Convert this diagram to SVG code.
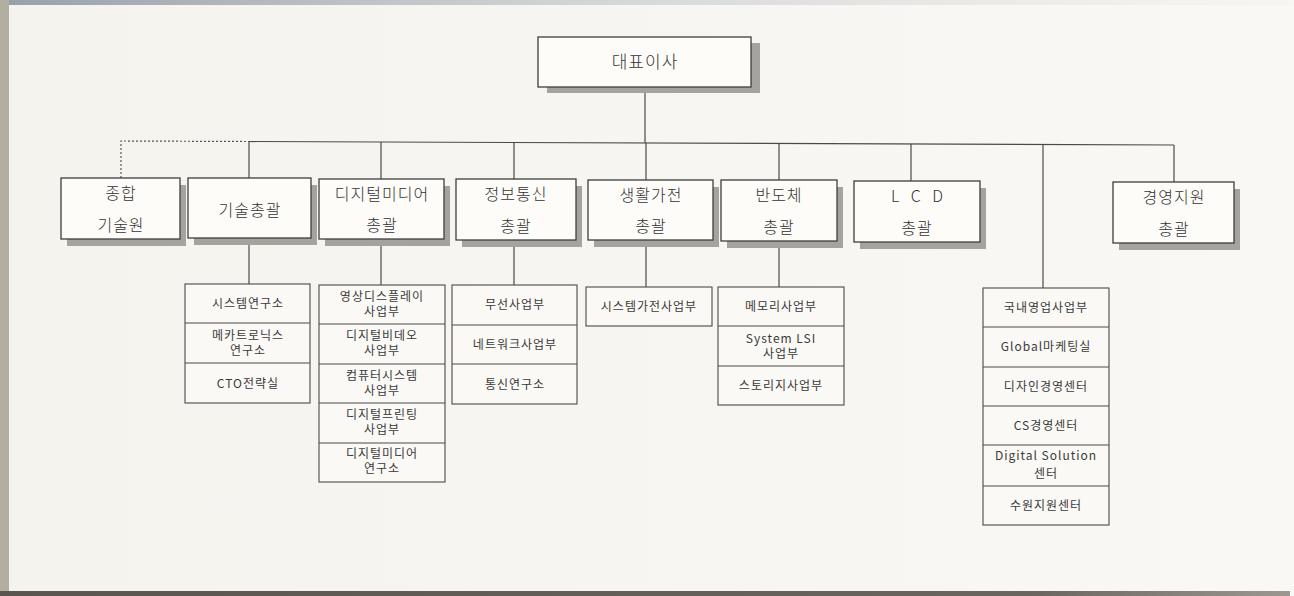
<svg xmlns="http://www.w3.org/2000/svg" width="1294" height="596" viewBox="0 0 1294 596">
<style>
.bx{fill:#fdfcf9;stroke:#3e3e3e;stroke-width:1.3}
.sh{fill:#a5a39e}
.sb{fill:#faf9f5;stroke:#4a4a4a;stroke-width:1.1}
.dv{stroke:#4a4a4a;stroke-width:1.1}
.ln{stroke:#4a4a4a;stroke-width:1.2;fill:none}
.dash{stroke:#555;stroke-width:1.2;stroke-dasharray:2 2;fill:none}
.t{font-family:"Noto Sans CJK KR","Noto Sans",sans-serif;font-size:16px;font-weight:300;fill:#333;text-anchor:middle;letter-spacing:1px}
.ts{font-family:"Noto Sans CJK KR","Noto Sans",sans-serif;font-size:12px;fill:#3a3a3a;text-anchor:middle;letter-spacing:1px}
</style>
<defs>
<linearGradient id="bg" x1="0" y1="0" x2="1" y2="0">
<stop offset="0" stop-color="#f5f3ee"/>
<stop offset="1" stop-color="#f9f8f5"/>
</linearGradient>
<linearGradient id="topg" x1="0" y1="0" x2="1" y2="0">
<stop offset="0" stop-color="#8e96a2" stop-opacity="0.9"/>
<stop offset="0.5" stop-color="#a8adb5" stop-opacity="0.4"/>
<stop offset="1" stop-color="#c8c8c8" stop-opacity="0.05"/>
</linearGradient>
<linearGradient id="botg" x1="0" y1="0" x2="1" y2="0">
<stop offset="0" stop-color="#5a554e"/>
<stop offset="0.8" stop-color="#6a655e"/>
<stop offset="1" stop-color="#9c9890"/>
</linearGradient>
</defs>
<rect x="0" y="0" width="1294" height="596" fill="url(#bg)"/>
<rect x="0" y="0" width="1294" height="5" fill="url(#topg)"/>
<rect x="0" y="0" width="9" height="592" fill="#b2afa1"/>
<rect x="0" y="591" width="1290" height="5" fill="url(#botg)"/>

<g id="connectors">
<line class="ln" x1="645" y1="87" x2="645" y2="143"/>
<line class="ln" x1="249" y1="141.5" x2="1174" y2="145"/>
<polyline class="dash" points="121,178 121,141 249,141.5"/>
<line class="ln" x1="249" y1="141.5" x2="249" y2="178"/>
<line class="ln" x1="381" y1="142" x2="381" y2="179"/>
<line class="ln" x1="514" y1="142.5" x2="514" y2="179"/>
<line class="ln" x1="646" y1="143" x2="646" y2="180"/>
<line class="ln" x1="779" y1="143.5" x2="779" y2="180"/>
<line class="ln" x1="911" y1="144" x2="911" y2="181"/>
<line class="ln" x1="1043" y1="144.5" x2="1043" y2="288"/>
<line class="ln" x1="1174" y1="145" x2="1174" y2="182"/>
<line class="ln" x1="249" y1="238" x2="249" y2="284"/>
<line class="ln" x1="381" y1="239" x2="381" y2="285"/>
<line class="ln" x1="514" y1="240" x2="514" y2="285"/>
<line class="ln" x1="646" y1="240" x2="646" y2="287"/>
<line class="ln" x1="779" y1="241" x2="779" y2="287"/>
</g>

<g id="ceo">
<rect class="sh" x="547" y="43" width="213" height="50"/>
<rect class="bx" x="538" y="37" width="213" height="50"/>
<text class="t" x="645" y="68" style="font-size:17px">대표이사</text>
</g>

<g id="n-jonghap">
<rect class="sh" x="67" y="185" width="119" height="61"/>
<rect class="bx" x="61" y="178" width="119" height="61"/>
<text class="t" x="121" y="199">종합</text>
<text class="t" x="121" y="231">기술원</text>
</g>

<g id="n-gisul">
<rect class="sh" x="194" y="185" width="123" height="60"/>
<rect class="bx" x="188" y="178" width="123" height="60"/>
<text class="t" x="250" y="216">기술총괄</text>
</g>

<g id="n-digital">
<rect class="sh" x="325" y="186" width="125" height="60"/>
<rect class="bx" x="319" y="179" width="125" height="60"/>
<text class="t" x="382" y="200">디지털미디어</text>
<text class="t" x="382" y="231">총괄</text>
</g>

<g id="n-info">
<rect class="sh" x="462" y="186" width="120" height="61"/>
<rect class="bx" x="456" y="179" width="120" height="61"/>
<text class="t" x="516" y="200">정보통신</text>
<text class="t" x="516" y="232">총괄</text>
</g>

<g id="n-life">
<rect class="sh" x="594" y="187" width="125" height="60"/>
<rect class="bx" x="588" y="180" width="125" height="60"/>
<text class="t" x="651" y="201">생활가전</text>
<text class="t" x="651" y="232">총괄</text>
</g>

<g id="n-semi">
<rect class="sh" x="727" y="187" width="116" height="61"/>
<rect class="bx" x="721" y="180" width="116" height="61"/>
<text class="t" x="779" y="201">반도체</text>
<text class="t" x="779" y="233">총괄</text>
</g>

<g id="n-lcd">
<rect class="sh" x="860" y="188" width="126" height="61"/>
<rect class="bx" x="854" y="181" width="126" height="61"/>
<text class="t" x="919" y="202" style="letter-spacing:4px">L C D</text>
<text class="t" x="917" y="234">총괄</text>
</g>

<g id="n-mgmt">
<rect class="sh" x="1119" y="189" width="121" height="61"/>
<rect class="bx" x="1113" y="182" width="121" height="61"/>
<text class="t" x="1174" y="203">경영지원</text>
<text class="t" x="1174" y="235">총괄</text>
</g>

<g id="s-gisul">
<rect class="sb" x="185" y="284" width="125" height="119"/>
<line class="dv" x1="185" y1="323" x2="310" y2="323"/>
<line class="dv" x1="185" y1="363" x2="310" y2="363"/>
<text class="ts" x="248" y="308">시스템연구소</text>
<text class="ts" x="248" y="340">메카트로닉스</text>
<text class="ts" x="248" y="355">연구소</text>
<text class="ts" x="248" y="388">CTO전략실</text>
</g>

<g id="s-digital">
<rect class="sb" x="319" y="285" width="126" height="197"/>
<line class="dv" x1="319" y1="324" x2="445" y2="324"/>
<line class="dv" x1="319" y1="364" x2="445" y2="364"/>
<line class="dv" x1="319" y1="403" x2="445" y2="403"/>
<line class="dv" x1="319" y1="443" x2="445" y2="443"/>
<text class="ts" x="382" y="301">영상디스플레이</text>
<text class="ts" x="382" y="316">사업부</text>
<text class="ts" x="382" y="340">디지털비데오</text>
<text class="ts" x="382" y="355">사업부</text>
<text class="ts" x="382" y="380">컴퓨터시스템</text>
<text class="ts" x="382" y="395">사업부</text>
<text class="ts" x="382" y="419">디지털프린팅</text>
<text class="ts" x="382" y="434">사업부</text>
<text class="ts" x="382" y="458">디지털미디어</text>
<text class="ts" x="382" y="473">연구소</text>
</g>

<g id="s-info">
<rect class="sb" x="452" y="285" width="125" height="119"/>
<line class="dv" x1="452" y1="325" x2="577" y2="325"/>
<line class="dv" x1="452" y1="364" x2="577" y2="364"/>
<text class="ts" x="515" y="309">무선사업부</text>
<text class="ts" x="515" y="349">네트워크사업부</text>
<text class="ts" x="515" y="389">통신연구소</text>
</g>

<g id="s-life">
<rect class="sb" x="586" y="287" width="126" height="39"/>
<text class="ts" x="649" y="311">시스템가전사업부</text>
</g>

<g id="s-semi">
<rect class="sb" x="718" y="287" width="126" height="118"/>
<line class="dv" x1="718" y1="326" x2="844" y2="326"/>
<line class="dv" x1="718" y1="366" x2="844" y2="366"/>
<text class="ts" x="781" y="311">메모리사업부</text>
<text class="ts" x="781" y="343">System LSI</text>
<text class="ts" x="781" y="358">사업부</text>
<text class="ts" x="781" y="390">스토리지사업부</text>
</g>

<g id="s-sales">
<rect class="sb" x="983" y="288" width="126" height="237"/>
<line class="dv" x1="983" y1="327" x2="1109" y2="327"/>
<line class="dv" x1="983" y1="367" x2="1109" y2="367"/>
<line class="dv" x1="983" y1="406" x2="1109" y2="406"/>
<line class="dv" x1="983" y1="445" x2="1109" y2="445"/>
<line class="dv" x1="983" y1="486" x2="1109" y2="486"/>
<text class="ts" x="1046" y="312">국내영업사업부</text>
<text class="ts" x="1046" y="351">Global마케팅실</text>
<text class="ts" x="1046" y="391">디자인경영센터</text>
<text class="ts" x="1046" y="430">CS경영센터</text>
<text class="ts" x="1046" y="460">Digital Solution</text>
<text class="ts" x="1046" y="478">센터</text>
<text class="ts" x="1046" y="510">수원지원센터</text>
</g>
</svg>
